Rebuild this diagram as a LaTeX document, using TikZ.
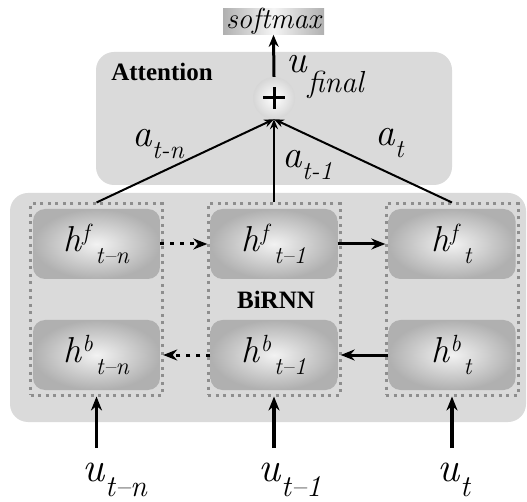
\documentclass[tikz,border=0pt]{standalone}
\usepackage{fontspec}
\newfontfamily\titlefont{Liberation Serif}
\usetikzlibrary{positioning, calc, arrows.meta}

\definecolor{panelgray}{HTML}{DADADA}
\definecolor{dotgray}{HTML}{8E8E8E}

% base letter, lowered smaller index
\newcommand{\sublbl}[4]{\textit{#1}\raisebox{-#4}{\scalebox{#3}{\textit{#2}}}}
% hidden state: h^dir then index
\newcommand{\hlbl}[2]{\textit{h}\raisebox{0.3em}{\scalebox{0.65}{\textit{#1}}}\hspace{0.08em}\raisebox{-0.33em}{\scalebox{0.67}{\textit{#2}}}}

\begin{document}
\begin{tikzpicture}[
  x=1pt, y=-1pt,
  >={Stealth[length=14pt,width=11pt]},
  panel/.style={fill=panelgray, rounded corners=18pt},
  column/.style={draw=dotgray, line width=3pt, dash pattern=on 3pt off 4.5pt,
                 minimum width=132pt, minimum height=191pt, inner sep=0pt},
  cell/.style={rectangle, rounded corners=12pt, minimum width=127pt,
               minimum height=70pt, inner sep=0pt,
               inner color=gray!10, outer color=gray!62, font=\fontsize{36}{36}\selectfont},
  title/.style={font=\fontsize{25}{25}\selectfont\titlefont\bfseries},
  inlbl/.style={font=\fontsize{42}{42}\selectfont, anchor=base west, inner sep=0pt},
  wlbl/.style={font=\fontsize{39}{39}\selectfont, anchor=base west, inner sep=0pt},
  inarrow/.style={->, line width=3.5pt},
  recur/.style={->, line width=3pt},
  recurdot/.style={->, line width=3pt, dash pattern=on 4pt off 6pt},
  attn/.style={->, line width=2pt, >={Stealth[length=10pt,width=8pt]}},
]
\useasboundingbox (0,0) rectangle (527,502);

% ---------------- panels ----------------
\fill[panel] (10,193) rectangle (526,422);
\fill[panel] (96,52) rectangle (452,185);

% ---------------- BiRNN columns ----------------
\node[column] (col1) at (96.5,299.5) {};
\node[column] (col2) at (274,299.5) {};
\node[column] (col3) at (452,299.5) {};

\node[cell] (hf1) at (96.5,244) {\hlbl{f}{t–n}};
\node[cell] (hb1) at (96.5,355) {\hlbl{b}{t–n}};
\node[cell] (hf2) at (274,244) {\hlbl{f}{t–1}};
\node[cell] (hb2) at (274,355) {\hlbl{b}{t–1}};
\node[cell] (hf3) at (452,244) {\hlbl{f}{t}};
\node[cell] (hb3) at (452,355) {\hlbl{b}{t}};

\node[title] (birnn) at (276,300) {BiRNN};

% recurrent links
\draw[recurdot] (hf1.east) -- ([xshift=-3pt]hf2.west);
\draw[recurdot] (hb2.west) -- ([xshift=3pt]hb1.east);
\draw[recur] (hf2.east) -- ([xshift=-3pt]hf3.west);
\draw[recur] (hb3.west) -- ([xshift=3pt]hb2.east);

% ---------------- inputs ----------------
\coordinate (in1) at (96.5,448);
\coordinate (in2) at (274,448);
\coordinate (in3) at (452,448);
\draw[inarrow] (in1) -- (col1.south);
\draw[inarrow] (in2) -- (col2.south);
\draw[inarrow] (in3) -- (col3.south);

\node[inlbl] (u1) at (82,481) {\sublbl{u}{t–n}{0.72}{0.36em}};
\node[inlbl] (u2) at (258,481) {\sublbl{u}{t–1}{0.72}{0.36em}};
\node[inlbl] (u3) at (437,481) {\sublbl{u}{t}{0.72}{0.36em}};

% ---------------- attention ----------------
\node[title] (attn) at (162,72) {Attention};
\node[circle, minimum size=42pt, inner sep=0pt, inner color=white, outer color=gray!32,
      path picture={\draw[line width=3pt] ([xshift=-11pt]path picture bounding box.center) -- ++(22pt,0pt);
                    \draw[line width=3pt] ([yshift=-11pt]path picture bounding box.center) -- ++(0pt,22pt);}]
      (plus) at (274,98) {};

\draw[attn] (col1.north) -- (plus.south);
\draw[attn] (col2.north) -- (plus.south);
\draw[attn] (col3.north) -- (plus.south);

\node[wlbl] (a1) at (132,147) {\sublbl{a}{t-n}{0.66}{0.3em}};
\node[wlbl] (a2) at (282,168) {\sublbl{a}{t-1}{0.66}{0.3em}};
\node[wlbl] (a3) at (375,146) {\sublbl{a}{t}{0.66}{0.3em}};
\node[wlbl] (ufin) at (286,73) {\sublbl{u}{final}{0.78}{0.5em}};

% ---------------- output ----------------
\node[rectangle, minimum width=101pt, minimum height=25pt, inner sep=0pt,
      left color=gray!62, right color=gray!62, middle color=gray!8,
      font=\fontsize{29}{29}\selectfont\itshape] (soft) at (273.5,21.5) {softmax};
\draw[->, line width=3pt, >={Stealth[length=12pt,width=10pt]}] (plus.north) -- (soft.south);

\end{tikzpicture}
\end{document}
